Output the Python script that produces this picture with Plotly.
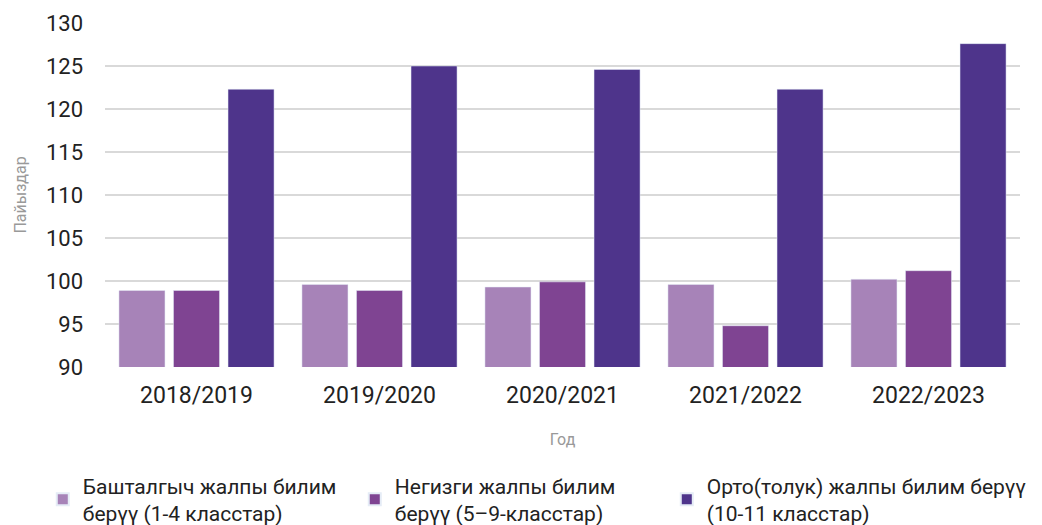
import plotly.graph_objects as go

categories = ["2018/2019", "2019/2020", "2020/2021", "2021/2022", "2022/2023"]
series_names = [
    "Башталгыч жалпы билим<br>берүү (1-4 класстар)",
    "Негизги жалпы билим<br>берүү (5–9-класстар)",
    "Орто(толук) жалпы билим берүү<br>(10-11 класстар)",
]
primary = [98.9, 99.6, 99.3, 99.6, 100.2]
basic = [98.9, 98.9, 99.9, 94.8, 101.2]
secondary = [122.3, 125.0, 124.6, 122.3, 127.6]
y_ticks = [90, 95, 100, 105, 110, 115, 120, 125, 130]
colors = ["#A783B8", "#7F4492", "#4E348B"]
legend_widths = [267, 267, 330]

fig = go.Figure()
for name, vals, col, lw in zip(series_names, [primary, basic, secondary], colors, legend_widths):
    fig.add_trace(go.Bar(x=categories, y=vals, name=name, marker_color=col, legendwidth=lw))

fig.update_layout(
    width=1034, height=517,
    font=dict(family="Roboto", color="#222222"),
    plot_bgcolor="white", paper_bgcolor="white",
    margin=dict(l=97, r=22, t=15, b=158, autoexpand=False),
    barmode="group", bargap=0.106, bargroupgap=0.156,
    xaxis=dict(
        title=dict(text="Год", font=dict(size=16, color="#999999"), standoff=25),
        tickfont=dict(size=23, color="#222222"),
        showline=False, showgrid=False, ticks="", ticklabelstandoff=12,
    ),
    yaxis=dict(
        title=dict(text="Пайыздар", font=dict(size=16, color="#999999"), standoff=15),
        range=[90, 130], tickvals=y_ticks,
        tickfont=dict(size=22, color="#222222"),
        showgrid=True, gridcolor="#D9D9D9", gridwidth=2,
        zeroline=False, ticks="", ticklabelstandoff=21,
    ),
    legend=dict(
        orientation="h", x=-0.068, xanchor="left", y=-0.286, yanchor="top",
        font=dict(size=21, color="#222222"),
        itemsizing="constant",
        tracegroupgap=0,
    ),
)

fig.write_html("out.html")
